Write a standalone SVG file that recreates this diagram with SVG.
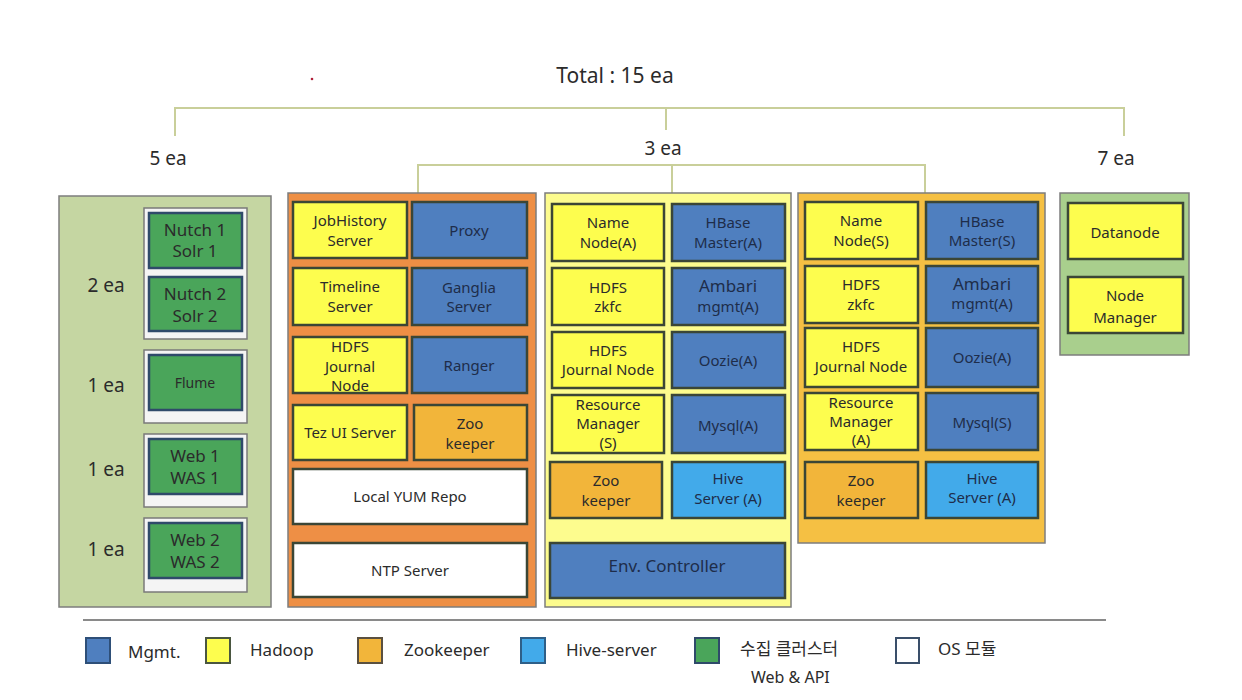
<svg xmlns="http://www.w3.org/2000/svg" width="1242" height="700" viewBox="0 0 1242 700">
<style>
text{font-family:"Noto Sans","Noto Sans CJK KR",sans-serif;fill:#2b2b2b;text-anchor:middle;dominant-baseline:central}
.t{font-size:15px}
.s{font-size:14px}
.big{font-size:17px}
.ea{font-size:19px}
.hd{font-size:21px}
.lg{font-size:17px;text-anchor:start}
.panel{stroke:#7d7d7d;stroke-width:1.5}
.cell{stroke:#3b4636;stroke-width:2.5}
.m{fill:#4f7fbf}
.h{fill:#fdfd4e}
.z{fill:#f2b53a}
.v{fill:#42aaea}
.g{fill:#4aa55a;stroke:#2f4a6a;stroke-width:2.5}
.w{fill:#ffffff}
.grp{fill:#f4f4f4;stroke:#7a7a7a;stroke-width:1.5}
.mt{fill:#1e2d4a}
.ln{fill:none;stroke:#c9cf9a;stroke-width:2}
</style>

<g id="connectors">
<path class="ln" d="M175,136 V108 H1124 V136 M666,108 V130"/>
<path class="ln" d="M418,194 V165 H925 V194 M672,165 V194"/>
</g>

<g id="titles">
<text class="hd" x="615" y="75">Total : 15 ea</text>
<text class="ea" x="168" y="158">5 ea</text>
<text class="ea" x="663" y="148">3 ea</text>
<text class="ea" x="1116" y="158">7 ea</text>
<circle cx="312" cy="79" r="1.3" fill="#b0203a"/>
</g>

<g id="panel-collect">
<rect class="panel" x="59" y="196" width="212" height="411" fill="#c5d6a2"/>
<text class="ea" x="106" y="285">2 ea</text>
<text class="ea" x="106" y="385">1 ea</text>
<text class="ea" x="106" y="469">1 ea</text>
<text class="ea" x="106" y="549">1 ea</text>
<rect class="grp" x="144" y="208" width="103" height="131"/>
<rect class="grp" x="144" y="350" width="103" height="73"/>
<rect class="grp" x="144" y="434" width="103" height="73"/>
<rect class="grp" x="144" y="518" width="103" height="74"/>
</g>
<g id="nutch1"><rect class="g" x="149" y="213" width="93" height="55"/><text class="big" x="195" y="229">Nutch 1</text><text class="big" x="195" y="250">Solr 1</text></g>
<g id="nutch2"><rect class="g" x="149" y="277" width="93" height="54"/><text class="big" x="195" y="293">Nutch 2</text><text class="big" x="195" y="315">Solr 2</text></g>
<g id="flume"><rect class="g" x="149" y="355" width="93" height="55"/><text class="s" x="195" y="382">Flume</text></g>
<g id="web1"><rect class="g" x="149" y="439" width="93" height="55"/><text class="big" x="195" y="455">Web 1</text><text class="big" x="195" y="477">WAS 1</text></g>
<g id="web2"><rect class="g" x="149" y="523" width="93" height="55"/><text class="big" x="195" y="539">Web 2</text><text class="big" x="195" y="561">WAS 2</text></g>

<g id="panel-mgmt"><rect class="panel" x="288" y="193" width="248" height="414" fill="#ee8f45"/></g>
<g id="jobhistory"><rect class="cell h" x="293" y="202" width="114" height="56"/><text class="t" x="350" y="220">JobHistory</text><text class="t" x="350" y="240">Server</text></g>
<g id="proxy"><rect class="cell m" x="412" y="202" width="115" height="56"/><text class="t mt" x="469" y="230">Proxy</text></g>
<g id="timeline"><rect class="cell h" x="293" y="268" width="114" height="57"/><text class="t" x="350" y="286">Timeline</text><text class="t" x="350" y="306">Server</text></g>
<g id="ganglia"><rect class="cell m" x="412" y="268" width="115" height="57"/><text class="t mt" x="469" y="287">Ganglia</text><text class="t mt" x="469" y="306">Server</text></g>
<g id="journal1"><rect class="cell h" x="293" y="337" width="114" height="56"/><text class="t" x="350" y="346">HDFS</text><text class="t" x="350" y="366">Journal</text><text class="t" x="350" y="385">Node</text></g>
<g id="ranger"><rect class="cell m" x="412" y="337" width="115" height="56"/><text class="t mt" x="469" y="365">Ranger</text></g>
<g id="tezui"><rect class="cell h" x="293" y="405" width="114" height="55"/><text class="t" x="350" y="432">Tez UI Server</text></g>
<g id="zoo1"><rect class="cell z" x="414" y="405" width="113" height="55"/><text class="t" x="470" y="423">Zoo</text><text class="t" x="470" y="443">keeper</text></g>
<g id="yum"><rect class="cell w" x="293" y="469" width="234" height="55"/><text class="t" x="410" y="496">Local YUM Repo</text></g>
<g id="ntp"><rect class="cell w" x="293" y="543" width="234" height="54"/><text class="t" x="410" y="570">NTP Server</text></g>

<g id="panel-active"><rect class="panel" x="545" y="193" width="246" height="414" fill="#fdfc8e"/></g>
<g id="namenodeA"><rect class="cell h" x="552" y="204" width="112" height="57"/><text class="t" x="608" y="222">Name</text><text class="t" x="608" y="242">Node(A)</text></g>
<g id="hbaseA"><rect class="cell m" x="672" y="204" width="113" height="57"/><text class="t mt" x="728" y="222">HBase</text><text class="t mt" x="728" y="242">Master(A)</text></g>
<g id="zkfcA"><rect class="cell h" x="552" y="268" width="112" height="57"/><text class="t" x="608" y="287">HDFS</text><text class="t" x="608" y="306">zkfc</text></g>
<g id="ambariA"><rect class="cell m" x="672" y="268" width="113" height="57"/><text class="big mt" x="728" y="285">Ambari</text><text class="t mt" x="728" y="306">mgmt(A)</text></g>
<g id="journalA"><rect class="cell h" x="552" y="332" width="112" height="56"/><text class="t" x="608" y="350">HDFS</text><text class="t" x="608" y="369">Journal Node</text></g>
<g id="oozieA"><rect class="cell m" x="672" y="332" width="113" height="56"/><text class="t mt" x="728" y="360">Oozie(A)</text></g>
<g id="rmS"><rect class="cell h" x="552" y="395" width="112" height="58"/><text class="t" x="608" y="404">Resource</text><text class="t" x="608" y="423">Manager</text><text class="t" x="608" y="442">(S)</text></g>
<g id="mysqlA"><rect class="cell m" x="672" y="395" width="113" height="58"/><text class="t mt" x="728" y="425">Mysql(A)</text></g>
<g id="zooA"><rect class="cell z" x="550" y="462" width="112" height="56"/><text class="t" x="606" y="480">Zoo</text><text class="t" x="606" y="500">keeper</text></g>
<g id="hiveA"><rect class="cell v" x="672" y="462" width="113" height="56"/><text class="t mt" x="728" y="478">Hive</text><text class="t mt" x="728" y="498">Server (A)</text></g>
<g id="envctl"><rect class="cell m" x="550" y="543" width="235" height="55"/><text class="big mt" x="667" y="565">Env. Controller</text></g>

<g id="panel-standby"><rect class="panel" x="798" y="193" width="247" height="350" fill="#f5c043"/></g>
<g id="namenodeS"><rect class="cell h" x="805" y="202" width="113" height="57"/><text class="t" x="861" y="220">Name</text><text class="t" x="861" y="240">Node(S)</text></g>
<g id="hbaseS"><rect class="cell m" x="926" y="202" width="112" height="57"/><text class="t mt" x="982" y="221">HBase</text><text class="t mt" x="982" y="240">Master(S)</text></g>
<g id="zkfcS"><rect class="cell h" x="805" y="266" width="113" height="57"/><text class="t" x="861" y="284">HDFS</text><text class="t" x="861" y="304">zkfc</text></g>
<g id="ambariS"><rect class="cell m" x="926" y="266" width="112" height="57"/><text class="big mt" x="982" y="283">Ambari</text><text class="t mt" x="982" y="303">mgmt(A)</text></g>
<g id="journalS"><rect class="cell h" x="805" y="328" width="113" height="59"/><text class="t" x="861" y="346">HDFS</text><text class="t" x="861" y="366">Journal Node</text></g>
<g id="oozieS"><rect class="cell m" x="926" y="328" width="112" height="59"/><text class="t mt" x="982" y="357">Oozie(A)</text></g>
<g id="rmA"><rect class="cell h" x="805" y="393" width="113" height="57"/><text class="t" x="861" y="402">Resource</text><text class="t" x="861" y="421">Manager</text><text class="t" x="861" y="439">(A)</text></g>
<g id="mysqlS"><rect class="cell m" x="926" y="393" width="112" height="57"/><text class="t mt" x="982" y="422">Mysql(S)</text></g>
<g id="zooS"><rect class="cell z" x="805" y="462" width="113" height="56"/><text class="t" x="861" y="480">Zoo</text><text class="t" x="861" y="500">keeper</text></g>
<g id="hiveS"><rect class="cell v" x="926" y="462" width="112" height="56"/><text class="t mt" x="982" y="478">Hive</text><text class="t mt" x="982" y="497">Server (A)</text></g>

<g id="panel-data"><rect class="panel" x="1060" y="193" width="129" height="162" fill="#a9cf8d"/></g>
<g id="datanode"><rect class="cell h" x="1068" y="203" width="115" height="56"/><text class="t" x="1125" y="232">Datanode</text></g>
<g id="nodemanager"><rect class="cell h" x="1068" y="277" width="115" height="56"/><text class="t" x="1125" y="295">Node</text><text class="t" x="1125" y="317">Manager</text></g>

<g id="legend">
<line x1="83" y1="620" x2="1106" y2="620" stroke="#8a8a8a" stroke-width="2"/>
<rect x="86" y="638" width="24" height="25" fill="#4f7fbf" stroke="#2e4f78" stroke-width="2"/>
<text class="lg" x="128" y="651">Mgmt.</text>
<rect x="206" y="638" width="24" height="25" fill="#fdfd4e" stroke="#4a5640" stroke-width="2"/>
<text class="lg" x="250" y="649">Hadoop</text>
<rect x="358" y="638" width="24" height="25" fill="#f2b53a" stroke="#5a5040" stroke-width="2"/>
<text class="lg" x="404" y="649">Zookeeper</text>
<rect x="521" y="638" width="24" height="25" fill="#42aaea" stroke="#2e5f88" stroke-width="2"/>
<text class="lg" x="566" y="649">Hive-server</text>
<rect x="695" y="638" width="24" height="25" fill="#4aa55a" stroke="#2f4a6a" stroke-width="2"/>
<text class="lg" x="740" y="648">수집 클러스터</text>
<text class="lg" x="751" y="677" style="font-size:16px">Web &amp; API</text>
<rect x="896" y="638" width="23" height="25" fill="#ffffff" stroke="#3a4f6a" stroke-width="2"/>
<text class="lg" x="938" y="648">OS 모듈</text>
</g>
</svg>
